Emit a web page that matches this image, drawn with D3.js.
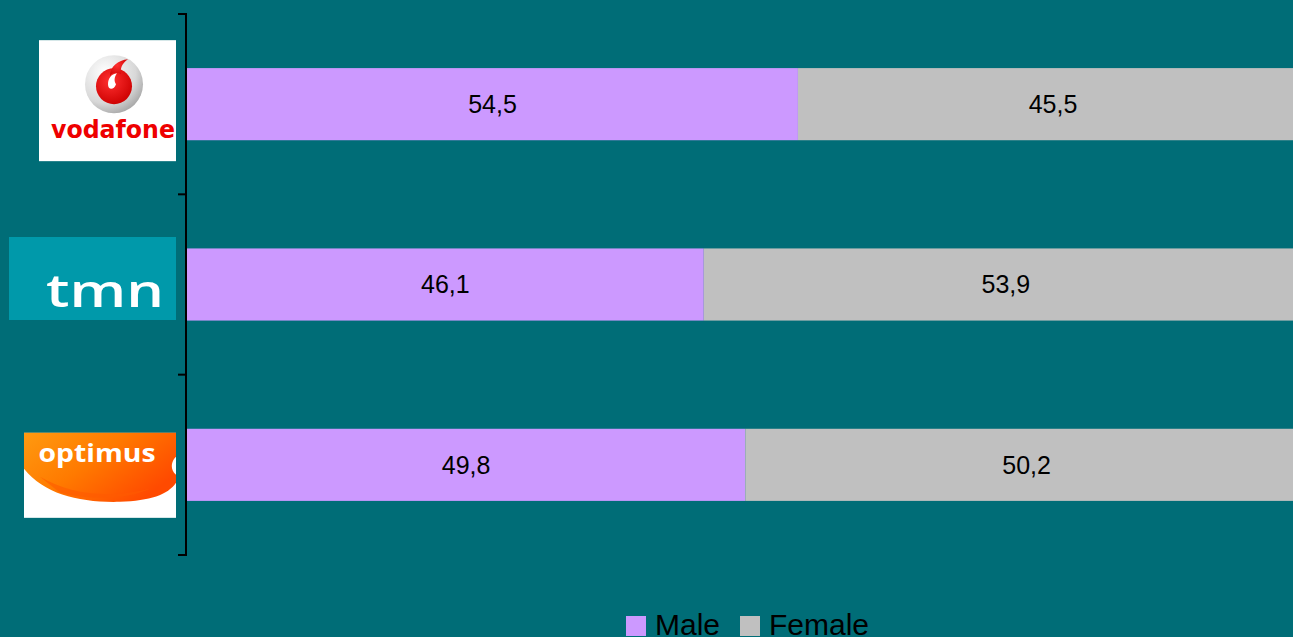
<!DOCTYPE html>
<html><head><meta charset="utf-8">
<script src="https://cdn.jsdelivr.net/npm/d3@7"></script>
<style>html,body{margin:0;padding:0;background:#006D77;overflow:hidden}svg{display:block}</style>
</head><body>
<svg id="c" width="1293" height="637"></svg>
<script>
const categories = ["vodafone", "tmn", "optimus"];
const seriesNames = ["Male", "Female"];
const male = [54.5, 46.1, 49.8];
const female = [45.5, 53.9, 50.2];
const colors = ["#CC99FF", "#C0C0C0"];

const W = 1293, H = 637;
const svg = d3.select("#c");
svg.append("rect").attr("width", W).attr("height", H).attr("fill", "#006D77");
const defs = svg.append("defs");

const x = d3.scaleLinear().domain([0, 100]).range([187, 1308]);
const y = d3.scaleBand().domain(categories).range([14, 555]).paddingInner(0.6).paddingOuter(0.3);

const rows = categories.map((c, i) => ({cat: c, vals: [male[i], female[i]]}));
const stack = d3.stack().keys([0, 1]).value((d, k) => d.vals[k]);
const series = stack(rows);

const g = svg.append("g");
series.forEach((s, k) => {
  g.selectAll(null).data(s).enter().append("rect")
    .attr("x", d => x(d[0]))
    .attr("y", d => y(d.data.cat))
    .attr("width", d => x(d[1]) - x(d[0]))
    .attr("height", y.bandwidth())
    .attr("fill", colors[k]);
  g.selectAll(null).data(s).enter().append("text")
    .attr("x", d => (x(d[0]) + x(d[1])) / 2)
    .attr("y", d => y(d.data.cat) + y.bandwidth() / 2)
    .attr("dy", "0.35em")
    .attr("text-anchor", "middle")
    .attr("font-family", "Liberation Sans, Arial, sans-serif")
    .attr("font-size", 25)
    .attr("fill", "#000")
    .text(d => d3.format(".1f")(d[1] - d[0]).replace(".", ","));
});

// axis with ticks at band boundaries
const axG = svg.append("g");
axG.append("line").attr("x1", 186).attr("x2", 186).attr("y1", 14).attr("y2", 555)
  .attr("stroke", "#000").attr("stroke-width", 2);
const step = (555 - 14) / categories.length;
d3.range(categories.length + 1).forEach(i => {
  const yy = 14 + i * step;
  axG.append("line").attr("x1", 178).attr("x2", 187).attr("y1", yy).attr("y2", yy)
    .attr("stroke", "#000").attr("stroke-width", 2);
});

// Logos as category labels
const logos = svg.append("g");
function center(c) { return y(c) + y.bandwidth() / 2; }

// vodafone
(function () {
  const cy = center("vodafone");
  const lg = logos.append("g").attr("transform", `translate(0,${cy - 104})`);
  lg.append("rect").attr("x", 39).attr("y", 40).attr("width", 137).attr("height", 121).attr("fill", "#fff");
  const gr = defs.append("radialGradient").attr("id", "vg").attr("cx", "0.35").attr("cy", "0.3").attr("r", "0.75");
  gr.append("stop").attr("offset", "0").attr("stop-color", "#ffffff");
  gr.append("stop").attr("offset", "0.7").attr("stop-color", "#d8d8d8");
  gr.append("stop").attr("offset", "1").attr("stop-color", "#a8a8a8");
  const rg = defs.append("radialGradient").attr("id", "vr").attr("cx", "0.4").attr("cy", "0.35").attr("r", "0.7");
  rg.append("stop").attr("offset", "0").attr("stop-color", "#ff3030");
  rg.append("stop").attr("offset", "1").attr("stop-color", "#cc0000");
  lg.append("circle").attr("cx", 114).attr("cy", 84).attr("r", 29).attr("fill", "url(#vg)");
  lg.append("circle").attr("cx", 114).attr("cy", 86).attr("r", 18).attr("fill", "url(#vr)");
  lg.append("path").attr("d", "M110,76 C110,66 118,60 128,59 C122,63 120,68 121,74 C117,72 112,72 110,76 Z")
    .attr("fill", "url(#vr)");
  lg.append("path").attr("d", "M108,84 C108,78 111,74 117,73 C114,77 114,81 116,84 C114,90 108,90 108,84 Z")
    .attr("fill", "#fff");
  lg.append("text").attr("x", 113).attr("y", 138).attr("text-anchor", "middle")
    .attr("font-family", "DejaVu Sans, sans-serif").attr("font-weight", "bold").attr("font-size", 24)
    .attr("textLength", 124).attr("lengthAdjust", "spacingAndGlyphs")
    .attr("fill", "#ee0000").text("vodafone");
})();

// tmn
(function () {
  const cy = center("tmn");
  const lg = logos.append("g").attr("transform", `translate(0,${cy - 284.5})`);
  lg.append("rect").attr("x", 9).attr("y", 237).attr("width", 167).attr("height", 83).attr("fill", "#0099AA");
  lg.append("text").attr("x", 105).attr("y", 307).attr("text-anchor", "middle")
    .attr("font-family", "Open Sans, sans-serif").attr("font-weight", "600").attr("font-size", 46)
    .attr("textLength", 118).attr("lengthAdjust", "spacingAndGlyphs")
    .attr("fill", "#fff").text("tmn");
})();

// optimus
(function () {
  const cy = center("optimus");
  const lg = logos.append("g").attr("transform", `translate(0,${cy - 466})`);
  lg.append("rect").attr("x", 24).attr("y", 434).attr("width", 152).attr("height", 85).attr("fill", "#fff");
  const og = defs.append("linearGradient").attr("id", "og").attr("x1", "0").attr("y1", "0").attr("x2", "1").attr("y2", "0.6");
  og.append("stop").attr("offset", "0").attr("stop-color", "#ff9a10");
  og.append("stop").attr("offset", "0.5").attr("stop-color", "#ff7a00");
  og.append("stop").attr("offset", "1").attr("stop-color", "#ff4a00");
  lg.append("path")
    .attr("d", "M24,434 L176,434 L176,458 C172,462 170,468 174,474 L176,476 L176,484 C168,496 150,502 120,503 C80,504 45,496 24,470 Z")
    .attr("fill", "url(#og)");
  lg.append("path")
    .attr("d", "M40,478 C70,496 110,500 150,490 C130,500 90,502 60,494 Z")
    .attr("fill", "#ff5a00").attr("opacity", 0.6);
  lg.append("text").attr("x", 97).attr("y", 463).attr("text-anchor", "middle")
    .attr("font-family", "Open Sans, sans-serif").attr("font-weight", "bold").attr("font-size", 25)
    .attr("textLength", 117).attr("lengthAdjust", "spacingAndGlyphs")
    .attr("fill", "#fff").text("optimus");
})();

// Legend
const leg = svg.append("g");
const legX = [626, 740];
seriesNames.forEach((n, i) => {
  leg.append("rect").attr("x", legX[i]).attr("y", 616).attr("width", 20).attr("height", 20).attr("fill", colors[i]);
  leg.append("text").attr("x", legX[i] + 29).attr("y", 635)
    .attr("font-family", "Liberation Sans, Arial, sans-serif").attr("font-size", 30)
    .attr("fill", "#000").text(n);
});
</script>
</body></html>
